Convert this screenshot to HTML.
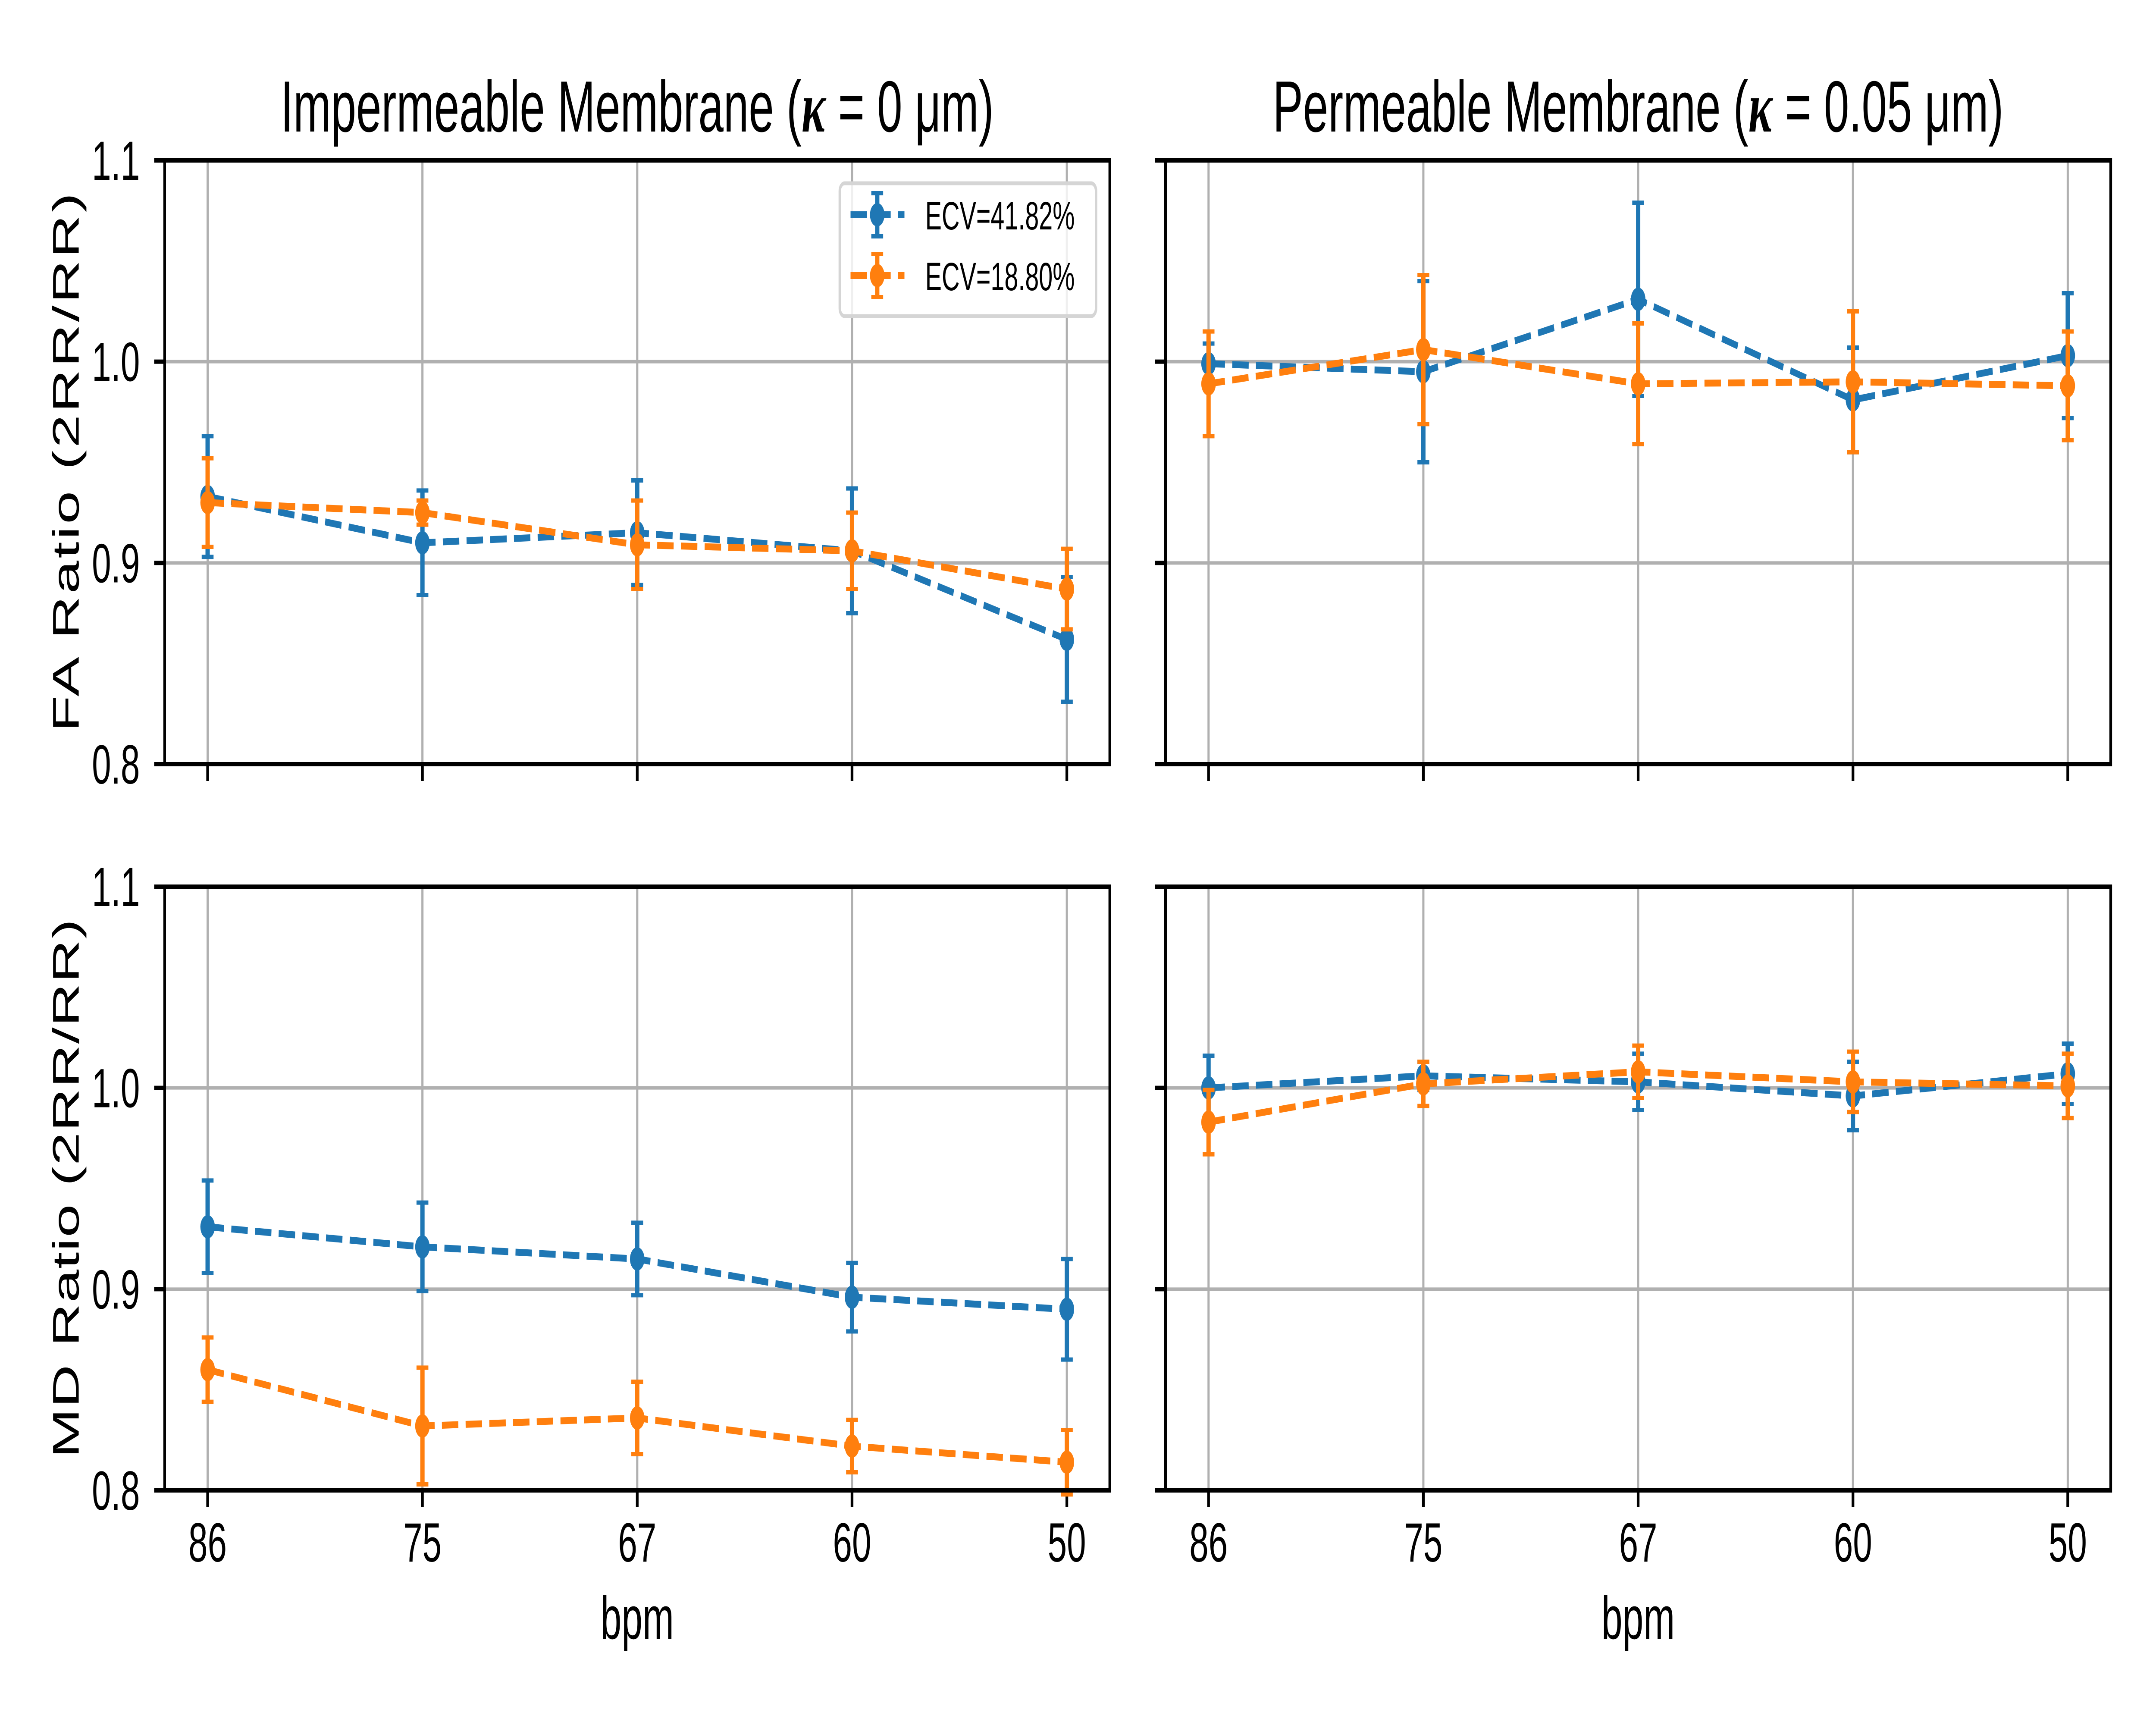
<!DOCTYPE html>
<html><head><meta charset="utf-8"><style>
html,body{margin:0;padding:0;background:#fff;width:100%;height:100%;overflow:hidden;}
svg{display:block;width:100vw;height:100vh;font-family:"Liberation Sans","DejaVu Sans",sans-serif;}
</style></head><body>
<svg id="chart" viewBox="0 0 8000 4000" preserveAspectRatio="none" xmlns="http://www.w3.org/2000/svg">
<rect x="0" y="0" width="8000" height="4000" fill="#fff"/>
</svg>
<script>
const categories = ["86","75","67","60","50"];
const yTicks = [0.8, 0.9, 1.0, 1.1];
const yTickLabels = ["0.8","0.9","1.0","1.1"];
const seriesNames = ["ECV=41.82%","ECV=18.80%"];
const faImpBlue = [0.933,0.910,0.915,0.906,0.862];
const faImpBlueErr = [0.030,0.026,0.026,0.031,0.031];
const faImpOrange = [0.930,0.925,0.909,0.906,0.887];
const faImpOrangeErr = [0.022,0.006,0.022,0.019,0.020];
const faPermBlue = [0.999,0.995,1.031,0.981,1.003];
const faPermBlueErr = [0.010,0.045,0.048,0.026,0.031];
const faPermOrange = [0.989,1.006,0.989,0.990,0.988];
const faPermOrangeErr = [0.026,0.037,0.030,0.035,0.027];
const mdImpBlue = [0.931,0.921,0.915,0.896,0.890];
const mdImpBlueErr = [0.023,0.022,0.018,0.017,0.025];
const mdImpOrange = [0.860,0.832,0.836,0.822,0.814];
const mdImpOrangeErr = [0.016,0.029,0.018,0.013,0.016];
const mdPermBlue = [1.000,1.006,1.003,0.996,1.007];
const mdPermBlueErr = [0.016,0.007,0.014,0.017,0.015];
const mdPermOrange = [0.983,1.002,1.008,1.003,1.001];
const mdPermOrangeErr = [0.016,0.011,0.013,0.015,0.016];

const NS="http://www.w3.org/2000/svg";
const svg=document.getElementById('chart');
const BLUE="#1f77b4", ORANGE="#ff7f0e";
function mk(tag,attrs,parent){const e=document.createElementNS(NS,tag);for(const k in attrs)e.setAttribute(k,attrs[k]);(parent||svg).appendChild(e);return e;}

const AX_W=3507, AX_H=1400;
const panels=[
 {x:611,y:372,b:faImpBlue,be:faImpBlueErr,o:faImpOrange,oe:faImpOrangeErr,name:"fa-impermeable",ylab:true,xlab:false,title:"Impermeable Membrane (",tk:"0 μm)",legend:true},
 {x:4325,y:372,b:faPermBlue,be:faPermBlueErr,o:faPermOrange,oe:faPermOrangeErr,name:"fa-permeable",ylab:false,xlab:false,title:"Permeable Membrane (",tk:"0.05 μm)"},
 {x:611,y:2056,b:mdImpBlue,be:mdImpBlueErr,o:mdImpOrange,oe:mdImpOrangeErr,name:"md-impermeable",ylab:true,xlab:true},
 {x:4325,y:2056,b:mdPermBlue,be:mdPermBlueErr,o:mdPermOrange,oe:mdPermOrangeErr,name:"md-permeable",ylab:false,xlab:true}
];
const yLabels=["FA Ratio (2RR/RR)","MD Ratio (2RR/RR)"];

panels.forEach((p,pi)=>{
  const g=mk('g',{});
  
  
  const xs=i=>p.x+AX_W*(i+0.2)/4.4;
  const ys=v=>p.y+AX_H*(1.1-v)/0.3;
  categories.forEach((c,i)=>{
    const l=mk('line',{x1:xs(i),x2:xs(i),y1:p.y,y2:p.y+AX_H,stroke:"#b0b0b0","stroke-width":8},g);
    
    
    const t=mk('line',{x1:xs(i),x2:xs(i),y1:p.y+AX_H,y2:p.y+AX_H+39,stroke:"#000","stroke-width":10},g);
    
    
    if(p.xlab){
      const tl=mk('text',{x:xs(i),y:p.y+AX_H+165,"font-size":128,"text-anchor":"middle",fill:"#000"},g);
      tl.textContent=c;
      
      
    }
  });
  yTicks.forEach((v,i)=>{
    const l=mk('line',{x1:p.x,x2:p.x+AX_W,y1:ys(v),y2:ys(v),stroke:"#b0b0b0","stroke-width":8},g);
    
    
    const t=mk('line',{x1:p.x-39,x2:p.x,y1:ys(v),y2:ys(v),stroke:"#000","stroke-width":10},g);
    
    
    if(p.ylab){
      const tl=mk('text',{x:p.x-92,y:ys(v)+45,"font-size":128,"text-anchor":"end",fill:"#000"},g);
      tl.textContent=yTickLabels[i];
      
      
    }
  });
  [[p.b,p.be,BLUE,'blue'],[p.o,p.oe,ORANGE,'orange']].forEach(([vals,errs,col,cn])=>{
    const pts=vals.map((v,i)=>xs(i)+","+ys(v)).join(" ");
    const pl=mk('polyline',{points:pts,fill:"none",stroke:col,"stroke-width":16,"stroke-dasharray":"61 27"},g);
    
    
    vals.forEach((v,i)=>{
      const x=xs(i), y1=ys(v+errs[i]), y2=ys(v-errs[i]);
      const eb=mk('line',{x1:x,x2:x,y1:y1,y2:y2,stroke:col,"stroke-width":16},g);
      
      
      [y1,y2].forEach(yy=>{
        const cp=mk('line',{x1:x-22,x2:x+22,y1:yy,y2:yy,stroke:col,"stroke-width":10},g);
        
        
      });
      const c=mk('circle',{cx:x,cy:ys(v),r:27,fill:col},g);
      
      
    });
  });
  const fr=mk('rect',{x:p.x,y:p.y,width:AX_W,height:AX_H,fill:"none",stroke:"#000","stroke-width":10},g);
  
  
  if(p.ylab){
    const yl=mk('text',{x:0,y:0,"font-size":138,"text-anchor":"middle",fill:"#000",transform:`translate(292,${p.y+AX_H/2}) rotate(-90)`,textLength:1250,lengthAdjust:"spacing"},g);
    yl.textContent=yLabels[pi<2?0:1];
    
    
  }
  if(p.xlab){
    const xl=mk('text',{x:p.x+AX_W/2,y:3800,"font-size":140,"text-anchor":"middle",fill:"#000"},g);
    xl.textContent="bpm";
    
    
  }
  if(p.title){
    const t=mk('text',{x:p.x+AX_W/2,y:305,"font-size":168,"text-anchor":"middle",fill:"#000"},g);
    
    
    t.appendChild(document.createTextNode(p.title));
    const k=document.createElementNS(NS,'tspan');
    k.setAttribute('font-weight','bold');k.setAttribute('font-style','italic');k.setAttribute('font-family','"Liberation Serif",serif');
    k.textContent="κ";
    t.appendChild(k);
    t.appendChild(document.createTextNode(" = "+p.tk));
  }
  if(p.legend){
    const lg=mk('g',{},g);
    
    
    mk('rect',{x:3116,y:425,width:951,height:308,rx:18,fill:"#fff","fill-opacity":0.8,stroke:"#d5d5d5","stroke-width":9},lg);
    [[BLUE,532-34],[ORANGE,673-34]].forEach(([col,yy],i)=>{
      const e=mk('g',{},lg);
      
      
      mk('line',{x1:3156,x2:3356,y1:yy,y2:yy,stroke:col,"stroke-width":16,"stroke-dasharray":"61 27"},e);
      mk('line',{x1:3255,x2:3255,y1:yy-50,y2:yy+50,stroke:col,"stroke-width":16},e);
      mk('line',{x1:3233,x2:3277,y1:yy-50,y2:yy-50,stroke:col,"stroke-width":10},e);
      mk('line',{x1:3233,x2:3277,y1:yy+50,y2:yy+50,stroke:col,"stroke-width":10},e);
      mk('circle',{cx:3255,cy:yy,r:27,fill:col},e);
      const tx=mk('text',{x:3433,y:yy+34,"font-size":92,fill:"#000"},e);
      tx.textContent=seriesNames[i];
    });
  }
});
</script>
</body></html>
